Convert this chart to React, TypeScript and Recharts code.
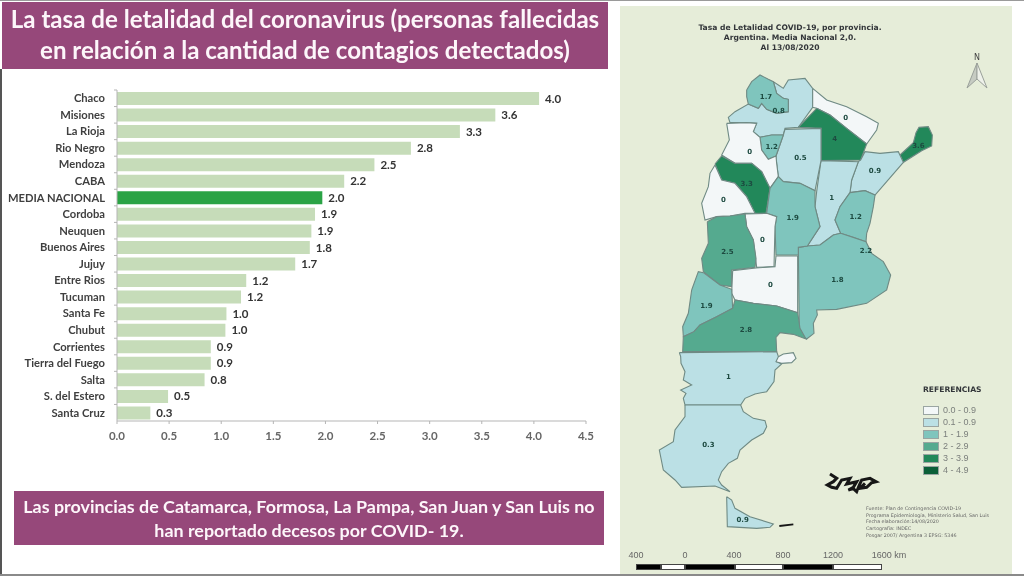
import React from 'react';
import { BarChart, Bar, XAxis, YAxis, Cell, LabelList, ScatterChart, Scatter } from 'recharts';

const provinces = ['Chaco', 'Misiones', 'La Rioja', 'Rio Negro', 'Mendoza', 'CABA', 'MEDIA NACIONAL', 'Cordoba', 'Neuquen', 'Buenos Aires', 'Jujuy', 'Entre Rios', 'Tucuman', 'Santa Fe', 'Chubut', 'Corrientes', 'Tierra del Fuego', 'Salta', 'S. del Estero', 'Santa Cruz'];
const rates = [4.05, 3.63, 3.29, 2.82, 2.47, 2.18, 1.97, 1.9, 1.865, 1.85, 1.71, 1.24, 1.19, 1.05, 1.04, 0.9, 0.9, 0.84, 0.49, 0.32];
const rateLabels = ['4.0', '3.6', '3.3', '2.8', '2.5', '2.2', '2.0', '1.9', '1.9', '1.8', '1.7', '1.2', '1.2', '1.0', '1.0', '0.9', '0.9', '0.8', '0.5', '0.3'];
const xTicks = [0, 0.5, 1, 1.5, 2, 2.5, 3, 3.5, 4, 4.5];

const legendRanges = ['0.0 - 0.9', '0.1 - 0.9', '1 - 1.9', '2 - 2.9', '3 - 3.9', '4 - 4.9'];
const legendColors = ['#f3f7f8', '#bbe0e5', '#7fc5bd', '#55aa8f', '#22885a', '#0b5f38'];

const jujuy = [[380, 270], [395, 245], [420, 225], [445, 238], [460, 245], [470, 280], [490, 295], [505, 298], [505, 335], [470, 340], [440, 328], [425, 310], [415, 325], [385, 312], [380, 290]];
const salta = [[460, 245], [475, 255], [490, 265], [505, 240], [555, 235], [578, 265], [578, 322], [535, 382], [495, 385], [490, 405], [455, 405], [420, 412], [400, 395], [410, 370], [380, 368], [330, 368], [325, 352], [345, 335], [385, 312], [415, 325], [425, 310], [440, 328], [470, 340], [505, 335], [505, 298], [490, 295], [470, 280]];
const formosa = [[578, 265], [620, 300], [680, 320], [740, 350], [775, 370], [770, 390], [740, 432], [680, 385], [630, 345], [590, 325], [578, 322]];
const chaco = [[590, 325], [630, 345], [680, 385], [740, 432], [722, 480], [603, 482], [603, 385], [535, 382]];
const misiones = [[840, 465], [880, 428], [888, 398], [897, 382], [925, 380], [937, 405], [935, 438], [905, 452], [850, 487]];
const corrientes = [[722, 480], [735, 455], [780, 460], [835, 455], [850, 487], [800, 545], [765, 585], [735, 572], [690, 578], [695, 540], [715, 485]];
const santaFe = [[603, 482], [715, 485], [695, 540], [690, 578], [660, 620], [645, 660], [662, 700], [640, 705], [600, 735], [562, 738], [600, 680], [585, 620], [590, 575]];
const entreRios = [[690, 578], [735, 572], [765, 585], [760, 620], [750, 670], [740, 700], [738, 725], [700, 712], [662, 700], [645, 660], [660, 620]];
const buenosAires = [[535, 742], [562, 738], [600, 735], [640, 705], [662, 700], [738, 725], [755, 760], [790, 785], [812, 825], [800, 870], [740, 910], [650, 928], [590, 930], [592, 945], [580, 970], [582, 1000], [560, 1017], [538, 1000]];
const santiago = [[495, 388], [603, 385], [603, 482], [585, 572], [540, 550], [490, 545], [475, 530], [470, 490], [468, 468], [490, 405]];
const tucuman = [[420, 412], [455, 405], [490, 405], [468, 468], [445, 478], [425, 450]];
const catamarca = [[320, 370], [380, 368], [410, 370], [400, 395], [420, 412], [425, 450], [445, 478], [468, 468], [470, 490], [475, 530], [450, 565], [425, 515], [395, 490], [345, 490], [305, 465], [328, 420]];
const laRioja = [[285, 492], [305, 468], [345, 490], [395, 490], [425, 515], [450, 565], [438, 640], [405, 640], [380, 590], [345, 550], [305, 540]];
const sanJuan = [[285, 495], [305, 540], [345, 550], [380, 590], [405, 640], [375, 640], [330, 648], [290, 650], [255, 660], [245, 610], [265, 560], [270, 520]];
const cordoba = [[490, 545], [540, 550], [585, 572], [585, 620], [600, 680], [562, 738], [535, 742], [535, 765], [468, 765], [465, 680], [470, 650], [440, 640], [450, 565], [475, 530]];
const sanLuis = [[375, 642], [440, 640], [470, 650], [465, 680], [462, 800], [410, 802], [400, 720], [380, 680]];
const mendoza = [[262, 665], [290, 650], [330, 648], [375, 642], [380, 680], [400, 720], [408, 775], [405, 802], [335, 810], [335, 860], [300, 855], [250, 815], [245, 775], [265, 730]];
const laPampa = [[338, 812], [408, 804], [465, 800], [468, 768], [533, 768], [533, 938], [470, 918], [400, 910], [345, 900], [335, 880]];
const neuquen = [[215, 870], [235, 815], [250, 818], [300, 855], [335, 868], [338, 925], [290, 950], [240, 975], [222, 995], [190, 1010], [188, 980], [205, 940]];
const rioNegro = [[338, 925], [345, 900], [400, 910], [470, 918], [533, 938], [540, 985], [558, 1017], [520, 1003], [480, 998], [468, 1012], [470, 1055], [188, 1055], [190, 1010], [222, 995], [240, 975], [290, 950]];
const chubut = [[178, 1058], [470, 1055], [477, 1075], [470, 1085], [485, 1092], [465, 1110], [462, 1145], [440, 1175], [405, 1182], [375, 1195], [362, 1215], [195, 1215], [190, 1195], [198, 1180], [182, 1170], [215, 1155], [190, 1140], [195, 1115], [183, 1090], [182, 1070]];
const valdes = [[475, 1070], [490, 1062], [520, 1058], [528, 1075], [515, 1088], [485, 1090], [468, 1085]];
const santaCruz = [[195, 1215], [362, 1215], [370, 1235], [400, 1255], [435, 1262], [440, 1280], [430, 1300], [395, 1320], [360, 1350], [352, 1375], [325, 1390], [305, 1415], [295, 1440], [305, 1455], [330, 1475], [285, 1458], [185, 1462], [165, 1440], [130, 1410], [118, 1350], [160, 1325], [165, 1290], [195, 1250]];
const tierraDelFuego = [[320, 1490], [335, 1500], [345, 1525], [390, 1550], [460, 1572], [450, 1582], [410, 1585], [322, 1580]];
const malvinas = [[630, 1422], [650, 1435], [640, 1445], [622, 1455], [635, 1462], [650, 1465], [660, 1448], [665, 1440], [690, 1435], [680, 1452], [710, 1445], [700, 1462], [685, 1470], [700, 1466], [710, 1475], [718, 1455], [725, 1440], [750, 1435], [768, 1445], [755, 1448], [740, 1462], [720, 1465], [735, 1450]];
const estados = [[478, 1578], [520, 1573]];

const mapShapes = [
  { name: 'Salta', pts: salta, color: 1 }, { name: 'Jujuy', pts: jujuy, color: 2 }, { name: 'Formosa', pts: formosa, color: 0 },
  { name: 'Chaco', pts: chaco, color: 4 }, { name: 'Misiones', pts: misiones, color: 4 }, { name: 'Corrientes', pts: corrientes, color: 1 },
  { name: 'Santa Fe', pts: santaFe, color: 1 }, { name: 'Entre Rios', pts: entreRios, color: 2 }, { name: 'Buenos Aires', pts: buenosAires, color: 2 },
  { name: 'Santiago', pts: santiago, color: 1 }, { name: 'Tucuman', pts: tucuman, color: 2 }, { name: 'Catamarca', pts: catamarca, color: 0 },
  { name: 'La Rioja', pts: laRioja, color: 4 }, { name: 'San Juan', pts: sanJuan, color: 0 }, { name: 'Cordoba', pts: cordoba, color: 2 },
  { name: 'San Luis', pts: sanLuis, color: 0 }, { name: 'Mendoza', pts: mendoza, color: 3 }, { name: 'La Pampa', pts: laPampa, color: 0 },
  { name: 'Neuquen', pts: neuquen, color: 2 }, { name: 'Rio Negro', pts: rioNegro, color: 3 }, { name: 'Chubut', pts: chubut, color: 1 },
  { name: 'Valdes', pts: valdes, color: 0 }, { name: 'Santa Cruz', pts: santaCruz, color: 1 }, { name: 'Tierra del Fuego', pts: tierraDelFuego, color: 1 },
];

const mapValues = [
  { x: 438, y: 288, text: '1.7' }, { x: 476, y: 330, text: '0.8' }, { x: 677, y: 352, text: '0' }, { x: 644, y: 414, text: '4' },
  { x: 895, y: 434, text: '3.6' }, { x: 455, y: 437, text: '1.2' }, { x: 389, y: 453, text: '0' }, { x: 541, y: 471, text: '0.5' },
  { x: 765, y: 511, text: '0.9' }, { x: 380, y: 548, text: '3.3' }, { x: 635, y: 592, text: '1' }, { x: 310, y: 597, text: '0' },
  { x: 707, y: 647, text: '1.2' }, { x: 518, y: 650, text: '1.9' }, { x: 427, y: 716, text: '0' }, { x: 738, y: 750, text: '2.2' },
  { x: 322, y: 752, text: '2.5' }, { x: 652, y: 836, text: '1.8' }, { x: 451, y: 853, text: '0' }, { x: 259, y: 915, text: '1.9' },
  { x: 378, y: 987, text: '2.8' }, { x: 325, y: 1127, text: '1' }, { x: 265, y: 1331, text: '0.3' }, { x: 368, y: 1557, text: '0.9' },
];

const sourceLines = ['Fuente: Plan de Contingencia COVID-19', 'Programa Epidemiología, Ministerio Salud, San Luis', 'Fecha elaboración:14/08/2020', 'Cartografía: INDEC', 'Posgar 2007/ Argentina 3 EPSG: 5346'];
const scaleLabels = ['400', '0', '400', '800', '1200', '1600 km'];

const barData = provinces.map((name, i) => ({ name, rate: rates[i], label: rateLabels[i] }));
const toOpen = (pts: number[][]) => pts.map(([x, y]) => ({ x, y }));
const toPoints = (pts: number[][]) => toOpen([...pts, pts[0]]);

const FONT = 'Lato, sans-serif';
const BAND = 16.55;

const ProvinceTick = ({ x, y, payload }: any) => (
  <g>
    <line x1={x - 3} x2={x} y1={y - BAND / 2} y2={y - BAND / 2} stroke="#b5b5b5" />
    <text x={x - 12} y={y} dy={4} textAnchor="end" fontFamily={FONT} fontSize={11.2} fontWeight={700} fill="#3f3f3f">
      {payload.value}
    </text>
  </g>
);

const ValueMark = ({ cx, cy, payload }: any) => (
  <text x={cx} y={cy} dy={3} textAnchor="middle" fontFamily="DejaVu Sans, sans-serif" fontSize={7} fontWeight={700} fill="#1d4a40">
    {payload.text}
  </text>
);

const Banner = ({ top, left, width, height, size, lines, pad, leading }: any) => (
  <div style={{ position: 'absolute', top, left, width, height, background: '#96487a', color: '#fdf6fa', fontFamily: FONT, fontWeight: 700, fontSize: size, lineHeight: `${leading}px`, textAlign: 'center', paddingTop: pad, boxSizing: 'border-box' }}>
    {lines.map((l: string) => <div key={l} style={{ whiteSpace: 'nowrap' }}>{l}</div>)}
  </div>
);

export default function App() {
  return (
    <div style={{ position: 'absolute', left: 0, top: 0, width: 1024, height: 576, background: '#fff', overflow: 'hidden', filter: 'blur(0.4px)' }}>
      <div style={{ position: 'absolute', left: 0, top: 0, width: 1024, height: 1, background: '#9a9a9a' }} />
      <div style={{ position: 'absolute', left: 0, top: 69, width: 2, height: 507, background: '#555' }} />
      <div style={{ position: 'absolute', left: 0, top: 574, width: 1024, height: 2, background: '#8a8a8a' }} />

      <Banner top={2} left={2} width={606} height={67} size={24.1} pad={1} leading={31} lines={['La tasa de letalidad del coronavirus (personas fallecidas', 'en relación a la cantidad de contagios detectados)']} />
      <Banner top={491} left={14} width={590} height={54} size={17.9} pad={3} leading={24} lines={['Las provincias de Catamarca, Formosa, La Pampa, San Juan y San Luis no', 'han reportado decesos por COVID- 19.']} />

      <div style={{ position: 'absolute', left: 0, top: 0 }}>
        <BarChart layout="vertical" width={620} height={460} data={barData} margin={{ top: 90, right: 34, bottom: 0, left: 0 }} barSize={13}>
          <XAxis type="number" domain={[0, 4.5]} ticks={xTicks} tickFormatter={(v: number) => v.toFixed(1)} height={39} stroke="#b5b5b5" tickSize={3} tickMargin={8} tick={{ fontFamily: FONT, fontSize: 11.5, fontWeight: 700, fill: '#666' }} interval={0} />
          <YAxis type="category" dataKey="name" width={117} stroke="#b5b5b5" tickLine={false} tick={<ProvinceTick />} tickMargin={0} tickSize={0} interval={0} />
          <Bar dataKey="rate" isAnimationActive={false}>
            {barData.map((d) => (
              <Cell key={d.name} fill={d.name === 'MEDIA NACIONAL' ? '#2aa345' : '#c6dcb9'} />
            ))}
            <LabelList dataKey="label" position="right" offset={6} fontFamily={FONT} fontSize={11.5} fontWeight={700} fill="#333" />
          </Bar>
        </BarChart>
      </div>

      <div style={{ position: 'absolute', left: 620, top: 6, width: 392, height: 568, background: '#e6edd9' }} />
      <div style={{ position: 'absolute', left: 620, top: 0 }}>
        <ScatterChart width={404} height={576} margin={{ top: 0, right: 0, bottom: 0, left: 0 }}>
          <XAxis type="number" dataKey="x" domain={[0, 1212]} hide />
          <YAxis type="number" dataKey="y" domain={[0, 1728]} reversed hide />
          {mapShapes.map((p) => (
            <Scatter key={p.name} name={p.name} data={toPoints(p.pts)} isAnimationActive={false} shape={() => <g />} line={{ fill: legendColors[p.color], stroke: '#6f8a84', strokeWidth: 1.1 }} />
          ))}
          <Scatter name="Malvinas" data={toOpen(malvinas)} isAnimationActive={false} shape={() => <g />} line={{ fill: 'none', stroke: '#161616', strokeWidth: 3 }} />
          <Scatter name="Estados" data={toOpen(estados)} isAnimationActive={false} shape={() => <g />} line={{ fill: 'none', stroke: '#161616', strokeWidth: 1.8 }} />
          <Scatter name="values" data={mapValues} isAnimationActive={false} shape={<ValueMark />} />
        </ScatterChart>
      </div>

      <div style={{ position: 'absolute', left: 690, top: 23, width: 200, textAlign: 'center', fontFamily: 'DejaVu Sans, sans-serif', fontWeight: 700, fontSize: 7.6, lineHeight: '10px', color: '#33363a', whiteSpace: 'nowrap' }}>
        <div>Tasa de Letalidad COVID-19, por provincia.</div>
        <div>Argentina. Media Nacional 2,0.</div>
        <div>Al 13/08/2020</div>
      </div>

      <div style={{ position: 'absolute', left: 974, top: 53, fontFamily: 'DejaVu Sans, sans-serif', fontSize: 8, color: '#444' }}>N</div>
      <svg style={{ position: 'absolute', left: 965, top: 62 }} width={24} height={28}>
        <path d="M12 1 L2 26 L12 17 Z" fill="#c6cbc2" stroke="#9aa09a" />
        <path d="M12 1 L22 26 L12 17 Z" fill="#eef1ea" stroke="#9aa09a" />
      </svg>

      <div style={{ position: 'absolute', left: 923, top: 385, fontFamily: 'DejaVu Sans, sans-serif', fontWeight: 700, fontSize: 7.6, color: '#33363a' }}>REFERENCIAS</div>
      {legendRanges.map((r, i) => (
        <div key={r}>
          <div style={{ position: 'absolute', left: 923, top: 406 + i * 11.9, width: 14, height: 7, background: legendColors[i], border: '1px solid #9aa5a2' }} />
          <div style={{ position: 'absolute', left: 943, top: 404 + i * 11.9, fontFamily: 'Liberation Sans, sans-serif', fontSize: 9, lineHeight: '12px', color: '#7b7f7c', whiteSpace: 'nowrap' }}>{r}</div>
        </div>
      ))}

      <div style={{ position: 'absolute', left: 866, top: 506, fontFamily: 'DejaVu Sans, sans-serif', fontSize: 4.8, lineHeight: '6.7px', color: '#666', whiteSpace: 'nowrap' }}>
        {sourceLines.map((l) => <div key={l}>{l}</div>)}
      </div>

      {[[636, 25, '#000'], [661, 24, '#fff'], [685, 50, '#000'], [735, 48, '#fff'], [783, 50, '#000'], [833, 49, '#fff']].map(([left, width, bg]: any) => (
        <div key={left} style={{ position: 'absolute', left, top: 564, width, height: 6, background: bg, border: '0.5px solid #444', boxSizing: 'border-box' }} />
      ))}
      {scaleLabels.map((t, i) => (
        <div key={i} style={{ position: 'absolute', left: [636, 685, 734, 783, 833, 889][i] - 30, width: 60, top: 550, textAlign: 'center', fontFamily: 'Liberation Sans, sans-serif', fontSize: 9, lineHeight: '10px', color: '#666', whiteSpace: 'nowrap' }}>{t}</div>
      ))}
    </div>
  );
}
